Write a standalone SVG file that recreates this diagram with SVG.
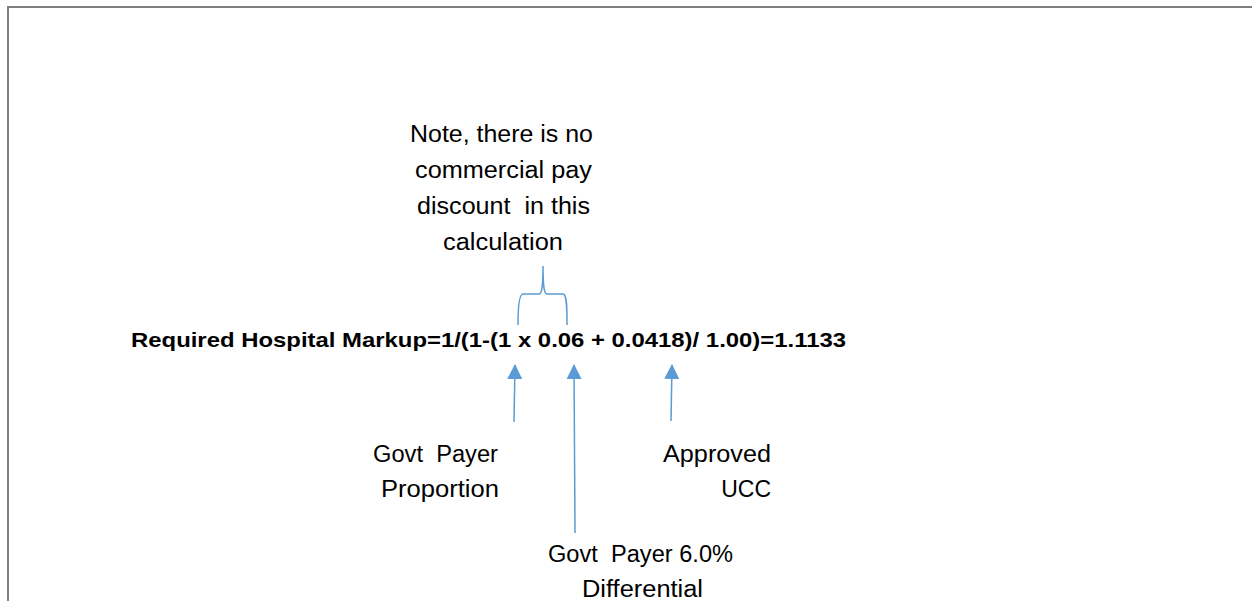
<svg xmlns="http://www.w3.org/2000/svg" width="1252" height="601" viewBox="0 0 1252 601">
  <style>
    .lbl { font-family: "Liberation Sans", Arial, sans-serif; font-size: 23px; fill: #000; white-space: pre; }
    .formula { font-family: "Liberation Sans", Arial, sans-serif; font-size: 21px; font-weight: bold; fill: #000; }
    .conn { stroke: #5b9bd5; stroke-width: 1.5; fill: none; }
    .frame { stroke: #7f7f7f; stroke-width: 2; fill: none; }
  </style>
  <defs>
    <marker id="head" viewBox="0 0 15 15" refX="14" refY="7.5" markerWidth="15" markerHeight="15" markerUnits="userSpaceOnUse" orient="auto">
      <path d="M15,7.5 L0,0 L0,15 Z" fill="#5b9bd5"/>
    </marker>
  </defs>

  <rect width="1252" height="601" fill="#fff"/>
  <path class="frame" d="M8,601 V7 H1252"/>

  <g id="formula">
    <text class="formula" x="131" y="347" textLength="715" lengthAdjust="spacingAndGlyphs">Required Hospital Markup=1/(1-(1 x 0.06 + 0.0418)/ 1.00)=1.1133</text>
  </g>

  <g id="note">
    <text class="lbl" x="410" y="142" textLength="183" lengthAdjust="spacingAndGlyphs">Note, there is no</text>
    <text class="lbl" x="415" y="178" textLength="177" lengthAdjust="spacingAndGlyphs">commercial pay</text>
    <text class="lbl" x="417" y="214" textLength="173" lengthAdjust="spacingAndGlyphs">discount  in this</text>
    <text class="lbl" x="443" y="250" textLength="120" lengthAdjust="spacingAndGlyphs">calculation</text>
  </g>

  <g id="govt-payer-proportion">
    <text class="lbl" x="373" y="462" textLength="125" lengthAdjust="spacingAndGlyphs">Govt  Payer</text>
    <text class="lbl" x="381" y="497" textLength="118" lengthAdjust="spacingAndGlyphs">Proportion</text>
  </g>

  <g id="approved-ucc">
    <text class="lbl" x="663" y="462" textLength="108" lengthAdjust="spacingAndGlyphs">Approved</text>
    <text class="lbl" x="771" y="497" text-anchor="end">UCC</text>
  </g>

  <g id="govt-payer-differential">
    <text class="lbl" x="548" y="562" textLength="185" lengthAdjust="spacingAndGlyphs">Govt  Payer 6.0%</text>
    <text class="lbl" x="582" y="597" textLength="121" lengthAdjust="spacingAndGlyphs">Differential</text>
  </g>

  <g id="connectors">
    <!-- curly brace over "1 x 0.06" -->
    <path class="conn" d="M518,325 C518,308 519,294 523,294 L539,294 C542,294 543,285 543,266 C543,285 544,294 547,294 L563,294 C567,294 567,308 567,325"/>
    <!-- upward arrows to the formula terms -->
    <line class="conn" x1="514" y1="422" x2="515" y2="365" marker-end="url(#head)"/>
    <line class="conn" x1="575" y1="533" x2="574" y2="365" marker-end="url(#head)"/>
    <line class="conn" x1="671" y1="421" x2="672" y2="365" marker-end="url(#head)"/>
  </g>
</svg>
